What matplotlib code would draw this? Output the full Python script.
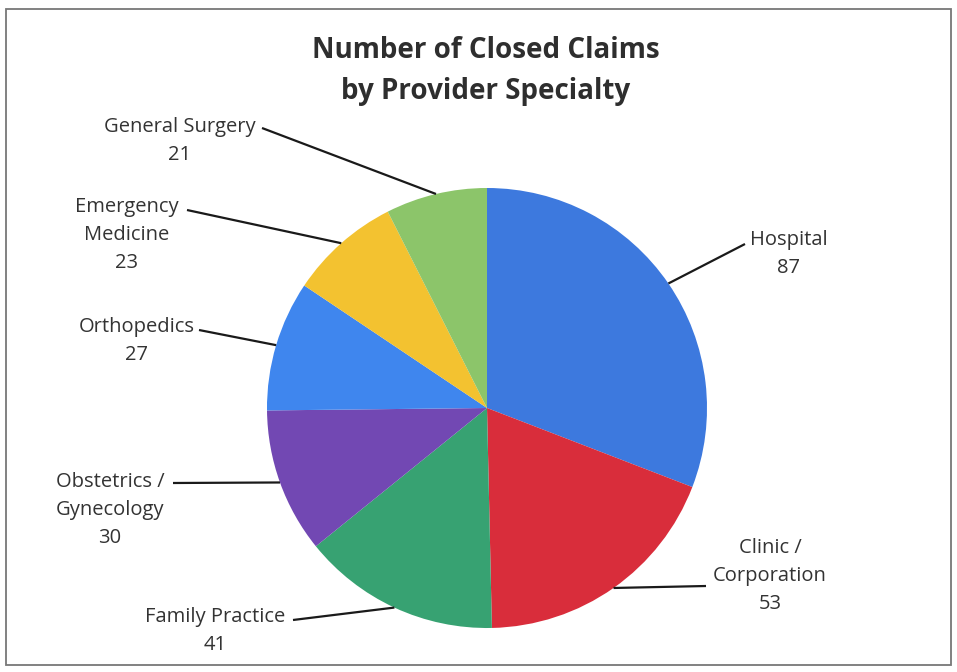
import matplotlib
matplotlib.use("Agg")
import matplotlib.pyplot as plt
import numpy as np
from matplotlib.patches import Rectangle

categories = ["Hospital", "Clinic /\nCorporation", "Family Practice", "Obstetrics /\nGynecology",
              "Orthopedics", "Emergency\nMedicine", "General Surgery"]
values = [87, 53, 41, 30, 27, 23, 21]
colors = ["#3d79de", "#d92d3b", "#37a272", "#7248b3", "#3f86ee", "#f3c230", "#8cc56a"]

# label layout (pixel coords, y downward): text centre x, top-line centre y, line start x, line start y
label_layout = [
    (789, 240, 745, 244),
    (770, 548, 706, 586),
    (215, 617, 293, 620),
    (110, 482, 173, 483),
    (137, 327, 199, 330),
    (127, 207, 187, 210),
    (180, 127, 262, 128),
]

W, H = 957, 672
fig = plt.figure(figsize=(W / 100, H / 100), dpi=100)
ax = fig.add_axes([0, 0, 1, 1])

cx, cy, R = 487, 408, 220
# y axis inverted: data-counterclockwise is visually clockwise
wedges, _ = ax.pie(values, colors=colors, startangle=-90, counterclock=True,
                   center=(cx, cy), radius=R, frame=True,
                   wedgeprops=dict(linewidth=0))
ax.set_xlim(0, W)
ax.set_ylim(H, 0)
ax.set_aspect("equal")
ax.axis("off")

font = "Open Sans"
lh = 28
for w, cat, val, (tx, ty, lx, ly) in zip(wedges, categories, values, label_layout):
    ang = np.deg2rad((w.theta1 + w.theta2) / 2)
    ex = cx + R * np.cos(ang)
    ey = cy + R * np.sin(ang)
    ax.plot([lx, ex], [ly, ey], color="#1a1a1a", lw=1.6, solid_capstyle="butt")
    lines = cat.split("\n") + [str(val)]
    for i, s in enumerate(lines):
        ax.text(tx, ty + i * lh, s, ha="center", va="center", fontsize=14.5,
                family=font, color="#333333")

ax.text(486, 50, "Number of Closed Claims", ha="center", va="center",
        fontsize=20, fontweight="bold", family=font, color="#2e2e2e")
ax.text(486, 92, "by Provider Specialty", ha="center", va="center",
        fontsize=20, fontweight="bold", family=font, color="#2e2e2e")

ax.add_patch(Rectangle((6, 9), 945, 656, fill=False, edgecolor="#777777", lw=1.3))

fig.savefig("out.png", dpi=100)
